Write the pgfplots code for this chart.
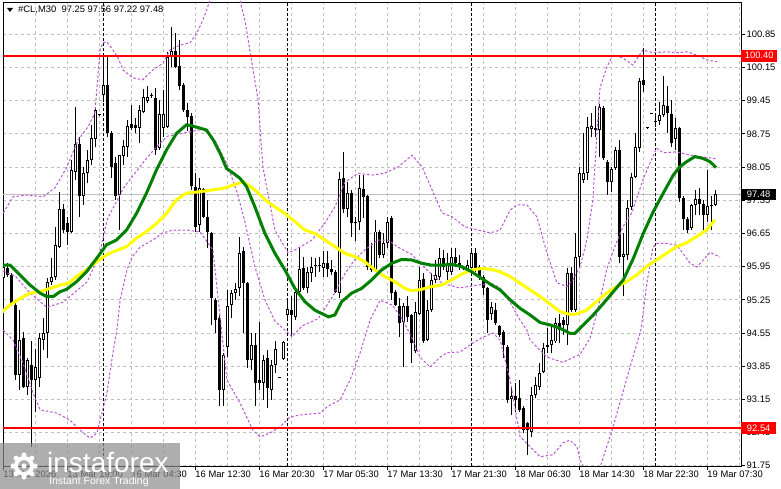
\documentclass[border=0pt]{standalone}
\usepackage{pgfplots}
\pgfplotsset{compat=1.18}
\usepackage{pgfplotstable}
\usepackage{fontspec}
\setmainfont{Liberation Sans}
\definecolor{mtgreen}{RGB}{0,128,0}
\definecolor{mtyellow}{RGB}{255,255,0}
\definecolor{orchid}{RGB}{186,85,211}
\definecolor{gridgray}{RGB}{192,192,192}
\newcommand\lab{\fontsize{9.4}{10}\selectfont}

\pgfplotstableread{
k o h l c
0 95.70 96.02 95.67 95.95
1 95.91 96.02 95.74 95.77
2 95.77 95.81 95.11 95.14
3 95.14 95.21 93.56 93.67
4 93.67 95.04 93.35 94.40
5 94.44 94.58 93.38 93.42
6 93.42 94.02 93.24 93.98
7 93.88 94.37 92.15 93.56
8 93.56 94.22 92.89 93.84
9 93.59 94.54 93.42 94.44
10 94.40 94.86 94.19 94.54
11 94.54 95.70 94.02 95.63
12 95.63 96.13 95.56 95.74
13 95.74 96.79 95.67 96.41
14 96.37 97.53 96.34 97.16
15 97.16 97.27 96.65 96.72
16 96.86 97.00 96.41 96.69
17 96.69 98.20 96.65 97.99
18 97.95 99.32 97.78 98.54
19 98.54 98.69 97.00 97.44
20 97.44 98.06 97.25 97.92
21 97.92 98.41 97.71 98.20
22 98.20 98.94 98.09 98.66
23 98.64 99.31 98.48 99.25
24 99.16 99.17 99.13 99.14
25 99.57 100.45 99.43 99.79
26 99.79 100.41 98.69 98.76
27 98.76 98.80 97.81 98.06
28 98.13 98.27 97.36 97.44
29 97.46 98.31 96.72 98.30
30 98.28 98.62 98.09 98.49
31 98.48 99.04 98.27 98.92
32 98.96 99.36 98.83 98.88
33 98.94 99.08 98.76 98.88
34 98.87 99.36 98.55 99.25
35 99.22 99.69 99.18 99.52
36 99.45 99.75 99.40 99.53
37 99.56 99.62 99.50 99.54
38 99.51 99.71 98.30 98.41
39 98.45 99.46 98.41 99.17
40 98.88 99.68 98.69 99.16
41 98.90 100.48 98.87 100.38
42 100.38 101.01 100.17 100.50
43 100.50 100.87 100.13 100.17
44 100.18 100.73 99.68 99.75
45 99.78 99.82 99.22 99.25
46 99.25 99.39 98.80 99.11
47 99.13 99.18 97.57 97.64
48 97.62 97.92 96.69 96.79
49 96.83 97.81 96.69 97.60
50 97.58 97.60 96.97 97.00
51 97.00 97.36 96.34 96.69
52 96.65 96.69 94.72 95.28
53 95.25 95.28 94.54 94.82
54 94.86 94.93 93.00 93.35
55 93.35 94.12 93.00 94.09
56 94.26 95.46 94.05 95.12
57 95.14 95.46 94.86 95.39
58 95.40 95.60 95.25 95.47
59 95.49 96.58 95.32 96.23
60 96.27 96.37 94.54 95.60
61 95.60 95.63 93.81 93.98
62 93.98 94.54 93.77 94.30
63 94.30 94.54 93.00 93.49
64 93.56 94.79 93.35 93.49
65 93.49 94.09 93.14 93.98
66 94.02 94.19 92.96 93.38
67 93.35 93.98 93.14 93.88
68 93.88 94.37 93.70 94.21
69 93.61 93.62 93.59 93.60
70 94.00 94.37 93.99 94.35
71 94.93 95.28 94.82 95.05
72 95.04 95.32 94.47 94.93
73 94.89 95.53 94.82 95.42
74 95.42 96.34 95.39 95.89
75 95.91 96.16 95.46 95.49
76 95.49 95.95 95.39 95.84
77 95.81 96.16 95.63 95.95
78 95.97 96.13 95.74 95.96
79 95.96 96.16 95.84 95.97
80 95.93 96.27 95.74 96.02
81 96.02 96.27 95.74 95.89
82 95.89 96.09 95.77 95.84
83 95.84 95.88 95.39 95.42
84 95.40 97.95 95.28 97.79
85 97.81 98.37 97.07 97.16
86 97.16 97.74 97.00 97.50
87 97.51 97.57 96.58 96.86
88 96.90 97.00 96.48 96.86
89 96.90 97.88 96.72 97.60
90 97.58 97.88 96.97 97.42
91 97.44 97.46 95.88 95.95
92 95.96 96.44 95.84 95.88
93 95.88 96.93 95.84 96.69
94 96.69 96.72 96.13 96.20
95 96.20 96.65 96.13 96.45
96 96.44 97.00 96.34 96.90
97 96.97 97.02 95.25 95.39
98 95.42 95.46 95.11 95.14
99 95.11 95.28 94.47 94.75
100 94.79 95.18 93.84 95.11
101 95.11 95.32 94.79 94.89
102 94.93 94.96 93.91 94.33
103 94.16 95.21 94.12 95.00
104 94.96 95.95 94.93 95.67
105 95.68 95.81 94.33 94.37
106 94.40 95.25 94.37 95.04
107 95.04 95.81 95.00 95.67
108 95.67 96.09 95.60 95.77
109 95.74 96.34 95.67 96.13
110 96.13 96.30 95.88 95.95
111 95.84 96.23 95.67 95.98
112 95.84 96.34 95.77 96.16
113 96.16 96.34 95.95 96.02
114 96.02 96.20 95.88 95.95
115 95.95 95.97 95.87 95.89
116 95.89 96.09 95.84 95.98
117 95.93 96.34 95.88 96.23
118 96.23 96.34 95.84 95.88
119 95.95 95.98 95.67 95.70
120 95.74 95.77 95.35 95.49
121 95.49 95.53 94.54 94.82
122 94.96 95.21 94.82 95.09
123 95.04 95.18 94.72 94.75
124 94.70 94.72 94.47 94.51
125 94.58 94.61 94.02 94.30
126 94.26 94.30 93.07 93.14
127 93.15 93.42 92.82 93.21
128 93.21 93.49 92.89 93.14
129 93.17 93.56 92.89 92.93
130 92.96 93.00 92.43 92.50
131 92.65 92.68 91.98 92.50
132 92.47 93.42 92.36 93.24
133 93.24 93.63 93.17 93.45
134 93.42 93.91 93.35 93.70
135 93.73 94.33 93.70 94.23
136 94.30 94.65 94.12 94.26
137 94.30 94.72 94.12 94.40
138 94.37 94.86 94.33 94.75
139 94.75 94.96 94.33 94.61
140 94.82 94.89 94.51 94.72
141 94.72 95.91 94.30 95.81
142 95.81 95.95 95.00 95.04
143 95.04 96.65 95.00 96.16
144 96.16 98.06 95.95 97.92
145 97.78 98.76 97.71 97.93
146 97.92 99.11 97.78 98.90
147 98.85 99.18 98.69 98.92
148 98.83 99.34 98.69 98.87
149 98.83 99.38 98.27 99.32
150 99.29 99.34 98.20 98.23
151 98.15 98.20 97.46 97.74
152 97.74 98.06 97.53 98.00
153 98.02 98.48 97.99 98.40
154 98.41 98.62 96.02 96.16
155 96.15 96.65 95.32 96.22
156 96.20 97.36 96.09 97.18
157 97.21 97.92 97.14 97.83
158 97.83 98.76 97.81 98.48
159 98.45 99.92 98.37 99.87
160 99.89 100.55 99.64 99.78
161 98.89 98.90 98.86 98.87
162 99.19 99.20 99.16 99.17
163 99.02 99.18 98.90 99.00
164 99.03 99.43 98.94 99.15
165 99.15 99.97 99.11 99.36
166 99.34 99.75 98.76 99.18
167 99.17 99.46 98.48 98.55
168 98.64 99.08 98.41 98.87
169 98.87 98.90 97.32 97.39
170 97.39 97.43 96.72 96.95
171 96.95 97.00 96.65 96.72
172 96.76 97.28 96.72 97.25
173 97.25 97.57 97.04 97.37
174 97.37 97.60 97.04 97.27
175 97.27 97.36 96.72 97.04
176 97.04 97.99 96.90 97.23
177 97.24 97.43 96.72 97.22
178 97.25 97.56 97.22 97.48
}\candles

\begin{document}
\begin{tikzpicture}
\path[use as bounding box] (-3pt,-23pt) rectangle (778pt,466pt);
\begin{axis}[
  scale only axis, width=738pt, height=464pt,
  xmin=-0.075, xmax=184.43, ymin=91.744, ymax=101.531,
  clip mode=individual,
  axis line style={black, line width=0.8pt},
  tick align=outside, major tick length=4pt, minor tick length=0pt,
  tick style={black, line width=0.8pt},
  xtick pos=bottom, ytick pos=right, yticklabel pos=right,
  xtick={0,16,...,176},
  minor xtick={8,24,...,184},
  xticklabels={13 Mar 2026,13 Mar 19:00,16 Mar 04:30,16 Mar 12:30,16 Mar 20:30,17 Mar 05:30,17 Mar 13:30,17 Mar 21:30,18 Mar 06:30,18 Mar 14:30,18 Mar 22:30,19 Mar 07:30},
  ytick={91.75,92.45,93.15,93.85,94.55,95.25,95.95,96.65,97.35,98.05,98.75,99.45,100.15,100.85},
  yticklabels={91.75,92.45,93.15,93.85,94.55,95.25,95.95,96.65,97.35,98.05,98.75,99.45,100.15,100.85},
  xmajorgrids, xminorgrids, ymajorgrids,
  grid style={gridgray, line width=0.8pt, dash pattern=on 3pt off 3pt},
  minor grid style={gridgray, line width=0.8pt, dash pattern=on 3pt off 3pt},
  xticklabel style={anchor=north west, inner sep=0pt, font=\lab, yshift=-1pt},
  yticklabel style={anchor=west, inner sep=0pt, font=\lab, xshift=1.5pt},
]
% current price line
\addplot[gridgray, line width=0.8pt] coordinates {(-1,97.48) (186,97.48)};
% day separators
\addplot[black, line width=0.8pt, dash pattern=on 3pt off 2pt] coordinates {(25,91) (25,102)};
\addplot[black, line width=0.8pt, dash pattern=on 3pt off 2pt] coordinates {(71,91) (71,102)};
\addplot[black, line width=0.8pt, dash pattern=on 3pt off 2pt] coordinates {(117,91) (117,102)};
\addplot[black, line width=0.8pt, dash pattern=on 3pt off 2pt] coordinates {(163,91) (163,102)};
% candles: wicks
\addplot[black, line width=1pt, -, quiver={u=0, v=\thisrow{h}-\thisrow{l}}] table[x=k, y=l] {\candles};
% bodies
\addplot[black, line width=3pt, -, quiver={u=0, v={max(abs(\thisrow{c}-\thisrow{o}),0.021)}}] table[x=k, y expr={min(\thisrow{o},\thisrow{c})}] {\candles};
% white interiors of rising candles
\addplot[white, line width=1pt, -, quiver={u=0, v={max(\thisrow{c}-\thisrow{o}-0.042,0)}}] table[x=k, y expr={\thisrow{o}+0.021}] {\candles};
% upper band
\addplot[orchid, line width=1pt, dash pattern=on 2.5pt off 2pt] coordinates {
(0,97.08) (2.4,97.42) (5.9,97.46) (9.9,97.42) (12.9,97.61) (15.9,98.05) (18.7,98.62) (21.2,98.90) (22.9,99.19) (24.2,100.52) (24.9,100.67) (25.9,100.69) (27.4,100.52) (28.7,100.35) (29.9,100.10) (32.4,99.93) (34.9,99.89) (37.4,100.10) (39.9,100.24) (41.7,100.52) (44.2,100.62) (46.7,100.67) (48.4,100.88) (49.9,101.15) (51.7,101.57) (55.4,101.99) (57.9,101.99) (60.4,101.15) (63.7,99.46) (64.9,98.05) (67.9,96.72) (71.2,96.24) (72.9,96.30) (77.2,96.51) (80.4,96.87) (82.9,97.21) (85.4,97.73) (88.7,97.92) (92.2,97.88) (95.4,97.92) (98.7,98.05) (102.2,98.30) (104.7,98.05) (107.2,97.57) (109.7,97.08) (112.2,97.00) (115.4,96.79) (118.7,96.72) (121.7,96.66) (124.2,96.72) (126.7,97.14) (128.4,97.25) (130.9,97.25) (133.4,97.00) (135.9,96.24) (138.4,95.61) (140.9,95.53) (142.4,95.67) (144.2,95.95) (145.9,96.51) (147.4,97.35) (148.4,98.76) (149.2,99.73) (150.9,100.16) (152.4,100.41) (154.9,100.35) (157.4,100.20) (159.9,100.52) (162.4,100.46) (165.9,100.48) (168.4,100.46) (170.9,100.48) (173.4,100.41) (175.9,100.31) (178.4,100.27)};
% middle band
\addplot[orchid, line width=1pt, dash pattern=on 2.5pt off 2pt] coordinates {
(0,95.85) (3,95.75) (6.7,95.39) (10.9,95.09) (15,95.20) (21,95.63) (24,96.20) (26,96.95) (30,97.60) (35,98.15) (38,98.45) (41,98.70) (44.2,98.75) (47,98.80) (50,98.85) (53,98.60) (56,98.10) (58.5,97.50) (60.4,96.90) (62.9,95.95) (65.4,95.25) (67.9,94.80) (71.2,94.55) (72.2,94.47) (74.7,94.70) (78.7,94.85) (82.2,95.30) (85.4,95.80) (87.9,96.10) (90.4,96.30) (93.7,96.51) (96.2,96.51) (98.7,96.36) (102.2,96.20) (105,95.95) (109.7,95.60) (114,95.50) (118.7,95.56) (122,95.60) (124.2,95.50) (126.7,95.20) (129.2,94.82) (130.9,94.61) (131.7,94.40) (135.9,94.04) (139.9,93.93) (144.2,94.10) (146.7,94.44) (148.5,95.00) (150.9,95.90) (153,96.40) (155,96.80) (157.2,97.10) (160,97.80) (163.3,98.45) (165,98.35) (168.3,98.37) (171.7,98.30) (175,98.26) (178.4,98.22)};
% lower band
\addplot[orchid, line width=1pt, dash pattern=on 2.5pt off 2pt] coordinates {
(0,94.61) (2.4,94.40) (4.9,93.92) (7.4,93.29) (9.2,92.93) (13.4,92.86) (16.7,92.71) (19.2,92.50) (21.7,92.33) (23.4,92.44) (24.2,92.71) (25.9,93.28) (27.4,94.13) (28.4,94.61) (29.2,95.24) (30.9,95.88) (32.2,96.15) (34.2,96.36) (37.4,96.51) (39.9,96.66) (42.4,96.72) (45.9,96.72) (49.2,96.68) (52.4,96.30) (55.9,93.56) (59.2,93.07) (62.4,92.50) (64.2,92.36) (66.7,92.44) (69.2,92.57) (71.7,92.78) (74.2,92.82) (79.2,92.86) (80.9,92.99) (84.2,93.14) (86.7,93.56) (89.2,94.13) (91.7,94.82) (94.2,95.24) (97.2,95.14) (99.9,94.82) (102.4,94.40) (104.2,94.04) (106.7,93.83) (109.2,94.04) (110.9,94.13) (114.2,94.15) (117.4,94.34) (119.9,94.46) (122.4,94.55) (124.2,94.40) (126.7,93.56) (129.2,92.36) (131.7,92.15) (134.2,91.94) (137.4,91.98) (139.9,92.23) (141.7,92.29) (143.4,92.15) (144.2,91.87) (146.7,91.45) (149.2,91.72) (152.2,92.50) (154.7,93.24) (157.2,93.98) (159.4,94.61) (160.9,95.60) (162.4,96.36) (163.4,96.44) (165.9,96.44) (168.4,96.40) (171.7,96.02) (173.4,95.94) (176.7,96.25) (179.2,96.15)};
% yellow MA
\addplot[mtyellow, line width=3pt] coordinates {
(-0.8,94.96) (1.7,95.14) (4.2,95.28) (6.7,95.39) (9.2,95.42) (11.7,95.49) (14.2,95.56) (16.3,95.60) (18.3,95.74) (20.8,95.88) (23.3,96.05) (25.8,96.20) (28.3,96.29) (30.8,96.37) (33.3,96.55) (35.8,96.69) (38.3,96.86) (40.8,97.07) (43.3,97.36) (45.8,97.50) (49.2,97.53) (52.5,97.57) (55.0,97.60) (57.5,97.67) (60.0,97.74) (62.9,97.57) (65.4,97.36) (67.9,97.21) (70.4,97.07) (72.9,96.90) (75.4,96.72) (77.9,96.65) (80.4,96.51) (82.9,96.37) (85.4,96.23) (87.9,96.16) (90.4,96.05) (92.9,95.88) (95.4,95.74) (97.9,95.63) (100.4,95.49) (102.1,95.44) (104.6,95.47) (107.1,95.53) (109.6,95.56) (112.1,95.67) (114.6,95.79) (117.1,95.88) (119.6,95.91) (122.1,95.89) (124.2,95.84) (126.7,95.74) (129.2,95.60) (131.7,95.46) (134.2,95.32) (136.7,95.16) (139.2,95.00) (141.7,94.94) (143.3,94.95) (145.8,95.03) (148.3,95.21) (150.8,95.39) (153.3,95.53) (155.8,95.63) (158.3,95.77) (160.8,95.95) (163.3,96.09) (165.8,96.23) (168.3,96.37) (170.8,96.45) (173.3,96.58) (175.8,96.72) (177.9,96.93)};
% green MA
\addplot[mtgreen, line width=3pt] coordinates {
(-0.8,95.98) (1.7,95.98) (4.2,95.77) (6.7,95.56) (9.2,95.39) (10.8,95.32) (12.5,95.32) (14.2,95.42) (15.8,95.47) (18.3,95.63) (20.8,95.84) (23.3,96.12) (25.8,96.41) (28.3,96.51) (30.8,96.72) (33.3,97.07) (35.8,97.50) (38.3,97.99) (40.8,98.41) (43.3,98.76) (45.8,98.94) (47.1,98.92) (49.2,98.87) (50.8,98.83) (52.5,98.62) (54.2,98.34) (55.8,98.02) (57.5,97.92) (59.2,97.81) (60.8,97.64) (62.9,97.21) (65.4,96.65) (67.9,96.23) (70.4,95.88) (72.9,95.49) (75.4,95.21) (77.9,95.03) (81.3,94.89) (82.9,94.93) (84.6,95.21) (87.1,95.39) (89.6,95.49) (92.1,95.67) (94.6,95.88) (97.1,96.02) (99.6,96.10) (102.1,96.09) (104.6,96.02) (107.1,95.98) (109.6,95.98) (112.1,96.00) (114.6,95.95) (117.1,95.84) (119.6,95.70) (122.1,95.56) (124.2,95.46) (126.7,95.25) (129.2,95.07) (131.7,94.93) (134.2,94.77) (136.7,94.72) (139.2,94.65) (141.7,94.54) (142.9,94.54) (145.0,94.72) (147.5,94.93) (150.0,95.17) (152.5,95.42) (155.0,95.67) (157.5,96.12) (160.0,96.65) (162.5,97.11) (165.0,97.50) (167.5,97.88) (169.2,98.06) (170.8,98.16) (172.9,98.27) (175.0,98.23) (176.7,98.16) (178.2,98.04)};
% support / resistance
\addplot[red, line width=2pt] coordinates {(-1,100.40) (186,100.40)};
\addplot[red, line width=2pt] coordinates {(-1,92.54) (186,92.54)};
\coordinate (L1) at (axis cs:184.43,100.40);
\coordinate (L2) at (axis cs:184.43,92.54);
\coordinate (L3) at (axis cs:184.43,97.48);
\end{axis}
% price tags on the right
\node[fill=red, text=white, anchor=west, inner sep=0pt, minimum width=36pt, minimum height=12pt, font=\lab] at (L1) {100.40};
\node[fill=red, text=white, anchor=west, inner sep=0pt, minimum width=35pt, minimum height=12pt, font=\lab] at (L2) {92.54};
\node[fill=black, text=white, anchor=west, inner sep=0pt, minimum width=35pt, minimum height=11pt, font=\lab] at (L3) {97.48};
% title
\fill[black] (4pt,458pt) -- (10pt,458pt) -- (7pt,454pt) -- cycle;
\node[anchor=west, inner sep=0pt, font=\lab] at (15pt,456pt) {\#CL,M30\ \ 97.25 97.56 97.22 97.48};
% watermark
\fill[black!45, opacity=0.7] (-3pt,-23pt) rectangle (177pt,23pt);
\draw[white, line width=4pt] (21pt,0pt) circle (8pt);
\foreach \a in {0,45,...,315} \fill[white] ([shift={(21pt,0pt)}]\a:11pt) circle (2.6pt);
\fill[white] (21pt,0pt) circle (2.5pt);
\node[anchor=base west, inner sep=0pt, text=white, font=\fontsize{28}{28}\selectfont] at (44pt,-7pt) {instaforex};
\node[anchor=base west, inner sep=0pt, text=white, font=\fontsize{10.5}{11}\selectfont] at (46pt,-19pt) {Instant Forex Trading};
\end{tikzpicture}
\end{document}
